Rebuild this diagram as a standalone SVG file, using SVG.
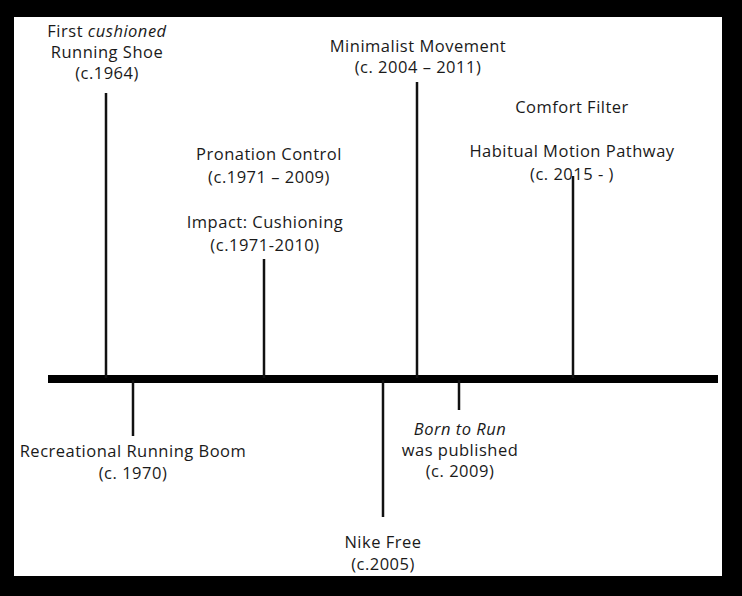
<svg xmlns="http://www.w3.org/2000/svg" width="742" height="596" viewBox="0 0 742 596">
<style>
text{font-family:"Open Sans","Noto Sans","Liberation Sans",sans-serif;font-size:16.5px;fill:#1a1a1a;text-anchor:middle;letter-spacing:0.5px}
.i{font-style:italic}
.tick{stroke:#111;stroke-width:2.5;fill:none}
</style>
<rect x="0" y="0" width="742" height="596" fill="#000"/>
<rect x="14" y="17" width="708" height="559" fill="#fff"/>
<g id="connectors">
<rect x="48" y="375" width="670" height="8" fill="#000"/>
<line class="tick" x1="106" y1="93" x2="106" y2="378"/>
<line class="tick" x1="133" y1="380" x2="133" y2="436"/>
<line class="tick" x1="264" y1="259" x2="264" y2="378"/>
<line class="tick" x1="417" y1="82" x2="417" y2="378"/>
<line class="tick" x1="383" y1="380" x2="383" y2="517"/>
<line class="tick" x1="459" y1="380" x2="459" y2="410"/>
<line class="tick" x1="573" y1="176" x2="573" y2="378"/>
</g>
<g id="first-cushioned">
<text x="107" y="37">First <tspan class="i">cushioned</tspan></text>
<text x="107" y="58">Running Shoe</text>
<text x="107" y="79">(c.1964)</text>
</g>
<g id="recreational">
<text x="133" y="457">Recreational Running Boom</text>
<text x="133" y="479">(c. 1970)</text>
</g>
<g id="pronation">
<text x="269" y="160">Pronation Control</text>
<text x="269" y="183">(c.1971 – 2009)</text>
</g>
<g id="impact">
<text x="265" y="228">Impact: Cushioning</text>
<text x="265" y="251">(c.1971-2010)</text>
</g>
<g id="minimalist">
<text x="418" y="52">Minimalist Movement</text>
<text x="418" y="73">(c. 2004 – 2011)</text>
</g>
<g id="nike-free">
<text x="383" y="548">Nike Free</text>
<text x="383" y="570">(c.2005)</text>
</g>
<g id="born-to-run">
<text x="460" y="435" class="i">Born to Run</text>
<text x="460" y="456">was published</text>
<text x="460" y="477">(c. 2009)</text>
</g>
<g id="comfort-filter">
<text x="572" y="113">Comfort Filter</text>
</g>
<g id="habitual">
<text x="572" y="157">Habitual Motion Pathway</text>
<text x="572" y="180">(c. 2015 - )</text>
</g>
</svg>
